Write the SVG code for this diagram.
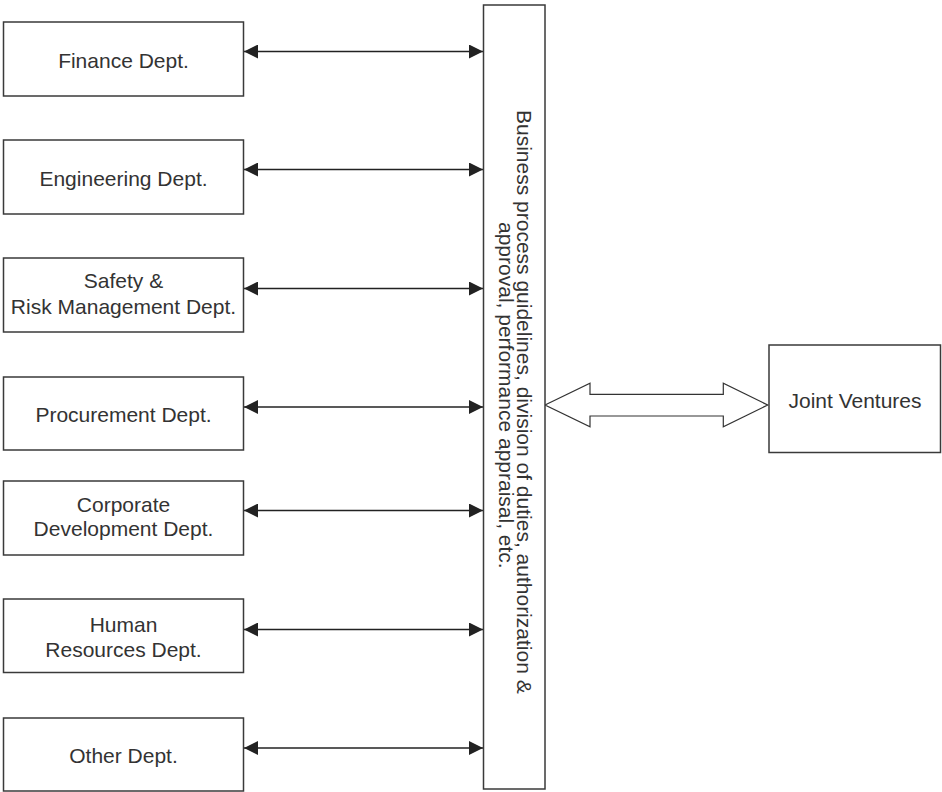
<svg xmlns="http://www.w3.org/2000/svg" width="942" height="792" viewBox="0 0 942 792">
<defs>
<style>
.box{fill:#fff;stroke:#3a3a3a;stroke-width:1.5}
.lbl{font-family:"Liberation Sans",Arial,sans-serif;font-size:21px;fill:#333;text-anchor:middle}
.vt{font-family:"Liberation Sans",Arial,sans-serif;font-size:21px;fill:#333}
.con{stroke:#222;stroke-width:1.6;fill:none;marker-start:url(#ah);marker-end:url(#ah)}
.hollow{fill:#fff;stroke:#333;stroke-width:1.2}
</style>
<marker id="ah" markerUnits="userSpaceOnUse" markerWidth="14" markerHeight="14" refX="14" refY="7" orient="auto-start-reverse" viewBox="0 0 14 14">
<path d="M0,0 L14,7 L0,14 z" fill="#222"/>
</marker>
</defs>
<rect width="942" height="792" fill="#fff"/>

<g id="connectors">
<line class="con" x1="244" y1="51.5" x2="483" y2="51.5"/>
<line class="con" x1="244" y1="169.5" x2="483" y2="169.5"/>
<line class="con" x1="244" y1="288.5" x2="483" y2="288.5"/>
<line class="con" x1="244" y1="407" x2="483" y2="407"/>
<line class="con" x1="244" y1="510.5" x2="483" y2="510.5"/>
<line class="con" x1="244" y1="629.5" x2="483" y2="629.5"/>
<line class="con" x1="244" y1="748" x2="483" y2="748"/>
<polygon class="hollow" points="545,405 590,383.3 590,394.3 723.3,394.3 723.3,383.3 767.7,405 723.3,426.7 723.3,416 590,416 590,426.7"/>
</g>

<g id="finance">
<rect class="box" x="3.5" y="22" width="240" height="74"/>
<text class="lbl" x="123.5" y="68.3">Finance Dept.</text>
</g>
<g id="engineering">
<rect class="box" x="3.5" y="140" width="240" height="74"/>
<text class="lbl" x="123.5" y="185.5">Engineering Dept.</text>
</g>
<g id="safety">
<rect class="box" x="3.5" y="258" width="240" height="74"/>
<text class="lbl" x="123.5" y="288.3">Safety &amp;</text>
<text class="lbl" x="123.5" y="314">Risk Management Dept.</text>
</g>
<g id="procurement">
<rect class="box" x="3.5" y="377" width="240" height="73"/>
<text class="lbl" x="123.5" y="422">Procurement Dept.</text>
</g>
<g id="corporate">
<rect class="box" x="3.5" y="481" width="240" height="74"/>
<text class="lbl" x="123.5" y="511.7">Corporate</text>
<text class="lbl" x="123.5" y="536">Development Dept.</text>
</g>
<g id="human">
<rect class="box" x="3.5" y="599" width="240" height="73.5"/>
<text class="lbl" x="123.5" y="631.7">Human</text>
<text class="lbl" x="123.5" y="656.7">Resources Dept.</text>
</g>
<g id="other">
<rect class="box" x="3.5" y="718" width="240" height="73"/>
<text class="lbl" x="123.5" y="762.7">Other Dept.</text>
</g>

<g id="guidelines">
<rect class="box" x="483.5" y="5" width="61.5" height="784"/>
<g transform="translate(516.7,0) rotate(90)">
<text class="vt" x="110" y="0">Business process guidelines, division of duties, authorization &amp;</text>
<text class="vt" x="222" y="18">approval, performance appraisal, etc.</text>
</g>
</g>

<g id="joint-ventures">
<rect class="box" x="769" y="345" width="171.5" height="107.5"/>
<text class="lbl" x="855" y="408.3">Joint Ventures</text>
</g>
</svg>
